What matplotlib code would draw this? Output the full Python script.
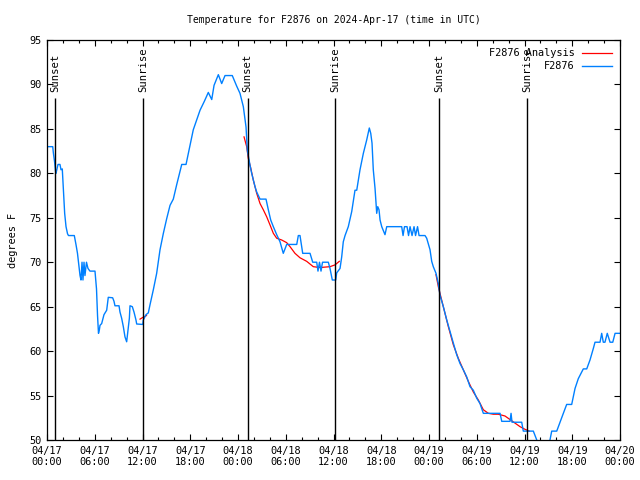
"""Temperature trace for station F2876 with analysis fit and sun events."""

import matplotlib

matplotlib.use("Agg")

import matplotlib.dates as mdates  # noqa: E402
import matplotlib.pyplot as plt  # noqa: E402
import pandas as pd  # noqa: E402

START = pd.Timestamp("2024-04-17 00:00")
END = pd.Timestamp("2024-04-20 00:00")

# observed temperature, hours since START
obs_hours = [
    0.13, 0.72, 0.8, 0.95, 1.07, 1.13, 1.38, 1.63, 1.76, 1.92, 2.07, 2.22, 2.39,
    2.58, 2.7, 3.43, 3.64, 3.83, 4.02, 4.15, 4.27, 4.4, 4.52, 4.65, 4.77, 4.96,
    5.15, 5.4, 6.03, 6.22, 6.35, 6.47, 6.58, 6.66, 6.87, 7.16, 7.5, 7.7, 8.25,
    8.42, 8.54, 9.05, 9.17, 9.38, 9.59, 9.8, 10.01, 10.22, 10.35, 10.43, 10.72,
    10.93, 11.18, 11.27, 12.03, 12.1, 12.44, 12.73, 12.94, 13.36, 13.78, 14.2,
    14.62, 15.04, 15.46, 15.87, 16.29, 16.71, 16.93, 17.47, 17.76, 18.18, 18.38,
    19.23, 19.77, 20.27, 20.7, 20.99, 21.53, 21.95, 22.37, 23.28, 23.84, 24.25,
    24.67, 25.01, 25.17, 25.51, 25.72, 26.14, 26.35, 26.77, 27.52, 27.81, 28.11,
    28.44, 28.86, 29.28, 29.69, 30.12, 31.38, 31.58, 31.79, 32.13, 33.05, 33.39,
    33.89, 34.05, 34.24, 34.43, 34.62, 35.06, 35.35, 35.56, 35.85, 36.28, 36.4,
    36.82, 37.03, 37.23, 37.45, 37.86, 38.29, 38.7, 38.92, 39.33, 39.75, 39.96,
    40.17, 40.5, 40.68, 40.84, 41.0, 41.22, 41.43, 41.56, 41.72, 41.85, 42.06,
    42.47, 42.69, 44.57, 44.74, 44.92, 45.24, 45.43, 45.62, 45.87, 46.12, 46.31,
    46.56, 46.75, 47.5, 47.71, 48.13, 48.34, 48.54, 48.88, 49.17, 49.38, 49.6,
    49.8, 50.23, 50.64, 51.06, 51.48, 51.9, 52.31, 52.74, 53.15, 53.57, 54.0,
    54.41, 54.83, 56.93, 57.14, 58.18, 58.31, 58.43, 59.65, 59.85, 61.11, 61.54,
    61.95, 62.83, 63.2, 63.42, 64.05, 64.46, 64.88, 65.3, 65.93, 66.35, 66.76,
    67.39, 67.82, 68.23, 68.65, 68.86, 69.49, 69.7, 69.9, 70.11, 70.4, 70.75,
    71.09, 71.38, 72.0,
]
obs_temp = [
    83, 83, 82.3, 81.3, 80.3, 80, 81, 81, 80.4, 80.5, 78, 75.5, 74,
    73.2, 73, 73, 72, 71, 69.5, 68.5, 68, 70, 68, 70, 68.5, 70,
    69.3, 69, 69, 67, 64, 62, 62.4, 62.9, 63.1, 64.1, 64.6, 66.05, 66,
    65.6, 65.1, 65.1, 64.4, 63.7, 62.75, 61.6, 61.05, 62.75, 63.7, 65.1, 65,
    64.4, 63.5, 63.05, 63, 63.5, 64.1, 64.3, 65.2, 66.9, 68.75, 71.4,
    73.25, 74.9, 76.4, 77.1, 78.7, 80.2, 81.0, 81.0, 82.25, 84.1, 84.9,
    87.1, 88.1, 89.1, 88.3, 89.9, 91.1, 90.1, 91, 91, 89.8, 89,
    87.5, 85.2, 82.6, 80.9, 80, 78.5, 77.9, 77.1, 77.1, 75.9, 74.75,
    74, 73.1, 72.3, 71, 72, 72, 73, 73, 71, 71, 70,
    70, 69, 70, 69, 70, 70, 70, 69.3, 68, 68, 68.8,
    69.3, 70.6, 72.3, 73, 74, 75.7, 78.1, 78.1, 80.4, 82.25, 83,
    83.75, 85.1, 84.5, 83.4, 80.4, 78.3, 75.5, 76.25, 75.9, 74.75, 74,
    73.1, 74, 74, 73, 74, 74, 73, 74, 73, 74, 73,
    74, 73, 73, 72.7, 71.4, 70.1, 69.5, 68.75, 67.6, 66.3, 65.6,
    65, 63.5, 62.2, 60.9, 59.6, 58.6, 57.9, 57.1, 56, 55.6, 54.7,
    54.1, 53, 53, 52.1, 52.1, 53, 52, 52, 51, 51, 50,
    49.4, 49.4, 50, 51, 51, 52, 53, 54, 54, 55.8, 56.9,
    58, 58, 59, 60.3, 61, 61, 62, 61, 61, 62, 61,
    61, 62, 62,
]

# analysis fit, three separate segments
fit1_hours = [11.69, 12.06, 12.5]
fit1_temp = [63.6, 63.8, 64.0]
fit2_hours = [
    24.76, 25.09, 25.29, 25.6, 25.92, 26.35, 26.77, 27.18, 27.61, 28.02, 28.44,
    28.86, 29.49, 30.12, 30.54, 31.16, 31.79, 32.63, 33.46, 34.3, 35.56, 36.19,
    36.73,
]
fit2_temp = [
    84.1, 83, 81.7, 80.6, 79.25, 77.75, 76.6, 75.9, 75.1, 74.2, 73.25,
    72.7, 72.5, 72.2, 71.75, 71, 70.5, 70.1, 69.5, 69.4, 69.5, 69.7,
    70.1,
]
fit3_hours = [
    48.88, 49.17, 49.8, 50.43, 51.06, 51.68, 52.31, 52.94, 53.57, 54.2, 54.83,
    55.46, 56.08, 56.71, 57.55, 58.18, 58.81, 59.44, 60.07, 60.6,
]
fit3_temp = [
    68.6, 67.25, 65, 62.75, 60.7, 59.2, 57.9, 56.6, 55.4, 54.5, 53.4,
    53, 52.9, 52.9, 52.7, 52.3, 51.9, 51.5, 51.2, 51.0,
]

sun_hours = [1.0, 12.06, 25.2, 36.25, 49.3, 60.3]
sun_labels = ["Sunset", "Sunrise", "Sunset", "Sunrise", "Sunset", "Sunrise"]


def to_time(hours):
    return START + pd.to_timedelta(hours, unit="h")


MONO = "DejaVu Sans Mono"
plt.rcParams["font.family"] = MONO

fig = plt.figure(figsize=(6.4, 4.8), dpi=100)
ax = fig.add_axes([47 / 640, 40 / 480, 573 / 640, 400 / 480])

red = "#ff0000"
blue = "#0080ff"
first = True
for hrs, tmp in [(fit1_hours, fit1_temp), (fit2_hours, fit2_temp), (fit3_hours, fit3_temp)]:
    ax.plot(to_time(hrs), tmp, color=red, lw=0.9,
            label="F2876 Analysis" if first else None)
    first = False
ax.plot(to_time(obs_hours), obs_temp, color=blue, lw=1.0, label="F2876")

sun_times = to_time(sun_hours)
ax.vlines(sun_times, 50, 88.5, color="black", lw=1.0)
for t, lab in zip(sun_times, sun_labels):
    ax.text(t, 89.1, lab, rotation=90, ha="center", va="bottom", fontsize=7.6)

ax.set_xlim(START, END)
ax.set_ylim(50, 95)
ax.set_yticks(range(50, 96, 5))
ax.xaxis.set_major_locator(mdates.HourLocator(byhour=[0, 6, 12, 18]))
ax.xaxis.set_minor_locator(mdates.HourLocator(interval=2))
ax.xaxis.set_major_formatter(mdates.DateFormatter("%m/%d\n%H:%M"))
ax.tick_params(which="both", direction="in", top=True, right=True,
               labelsize=7.4, width=0.8)
ax.tick_params(which="major", length=4.5, pad=4)
ax.tick_params(which="minor", length=2.5)
for sp in ax.spines.values():
    sp.set_linewidth(0.9)

ax.set_title("Temperature for F2876 on 2024-Apr-17 (time in UTC)",
             fontsize=7, pad=12)
ax.set_ylabel("degrees F", fontsize=7.4, labelpad=8)

ax.legend(loc="upper right", frameon=False, markerfirst=False, fontsize=7.4,
          handlelength=2.9, handletextpad=0.7, labelspacing=0.3,
          borderaxespad=0.4)

fig.savefig("out.png", dpi=100)
